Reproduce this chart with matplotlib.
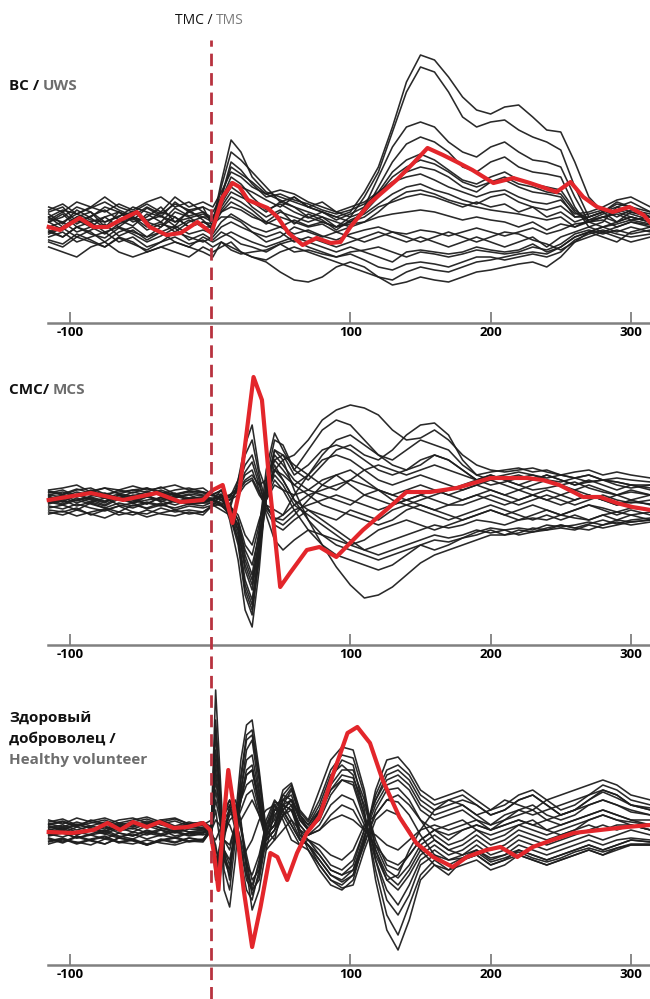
import matplotlib
matplotlib.use("Agg")
import matplotlib.pyplot as plt

plt.rcParams['font.family'] = ['Open Sans', 'DejaVu Sans']
plt.rcParams['lines.scale_dashes'] = False

# ---------------- data (time in ms, amplitude in arbitrary units) ----------------
tick_ms = [-100, 100, 200, 300]
tick_labels = ['-100', '100', '200', '300']

# panel 1: UWS
uws_red_t = [-115, -107, -93, -83, -73, -64, -52, -43, -31, -21, -9, 1, 9, 16, 21, 27, 41, 48, 56,
             66, 76, 86, 93, 100, 114, 133, 145, 155, 166, 176, 187, 202, 216, 228, 247, 257, 266,
             276, 287, 299, 309, 314]
uws_red = [-5, -8, 4, -5, -5, 2, 10, -5, -13, -11, 0, -11, 25, 39, 35, 22, 14, 5, -11,
           -23, -16, -21, -20, -5, 19, 42, 59, 74, 67, 60, 52, 39, 44, 39, 30, 40, 25,
           15, 10, 15, 7, -1]

uws_t = [-115, -105, -95, -85, -75, -65, -55, -45, -35, -25, -15, -5, 2, 8, 15, 22, 30,
         40, 50, 60, 70, 80, 90, 100, 110, 120, 130, 140, 150, 160, 170, 180, 190, 200,
         210, 220, 230, 240, 250, 260, 270, 280, 290, 300, 314]
uws_black = [
    [5, 12, 8, 15, 10, 18, 12, 20, 25, 15, 20, 10, 0, 40, 82, 70, 45,
     30, 25, 20, 15, 10, 5, 10, 30, 55, 95, 140, 167, 162, 145, 125, 112, 108, 115, 117, 105, 92, 90, 60, 25, 10, 15, 20, 10],
    [0, 5, 15, 10, 0, 5, 15, 10, 5, 20, 10, 15, -5, 35, 70, 62, 50,
     35, 20, 25, 15, 20, 10, 5, 25, 50, 90, 130, 155, 150, 130, 105, 95, 100, 102, 92, 85, 80, 72, 35, 5, 10, 20, 15, 5],
    [-10, -5, 5, 0, -10, -5, 5, 0, -5, 10, 5, -5, -10, 25, 55, 48, 40,
     28, 22, 15, 10, 5, 0, -5, 15, 45, 75, 95, 100, 95, 80, 70, 65, 75, 80, 70, 62, 60, 55, 25, 0, 5, 10, 5, 0],
    [10, 15, 0, 5, 15, 10, 0, 5, 15, 0, 10, 5, 5, 20, 40, 35, 30,
     22, 15, 25, 15, 10, 5, 0, 10, 35, 60, 78, 85, 80, 70, 55, 50, 60, 65, 55, 50, 48, 45, 15, -5, 0, 15, 10, 5],
    [-5, 0, -10, -5, 5, -5, -10, -15, -5, 5, -5, 0, -5, 15, 30, 25, 20,
     10, 20, 15, 5, 0, -5, 5, 10, 25, 40, 50, 55, 52, 45, 35, 30, 40, 45, 38, 35, 30, 28, 10, 0, 5, 0, 10, 5],
    [5, -5, 5, 10, -5, 0, 5, -5, 0, -10, 0, 5, 0, 10, 15, 12, 5,
     0, 10, 5, 0, 5, -5, 0, 5, 15, 20, 25, 28, 25, 20, 15, 20, 15, 18, 10, 15, 5, 10, 0, 5, 10, 0, 5, 0],
    [-15, -10, -20, -15, -10, -20, -15, -25, -20, -10, -15, -20, -15, -5, 0, -5, -10,
     -15, -10, -20, -15, -20, -25, -20, -15, -10, -15, -20, -15, -20, -25, -20, -15, -20, -25, -20, -15, -25, -15, -10, -5, -10, -5, 0, -5],
    [-20, -25, -15, -20, -25, -15, -20, -30, -25, -20, -25, -15, -20, -15, -10, -15, -20,
     -25, -20, -15, -20, -25, -30, -25, -30, -35, -40, -30, -28, -30, -32, -30, -25, -28, -30, -28, -22, -30, -25, -15, -10, -5, -10, -5, -10],
    [-25, -30, -35, -25, -20, -30, -35, -30, -25, -30, -35, -25, -30, -25, -20, -30, -35,
     -40, -50, -58, -60, -55, -45, -40, -45, -55, -63, -60, -55, -58, -60, -55, -50, -48, -45, -42, -40, -45, -35, -20, -15, -10, -15, -20, -15],
    [-10, -15, -5, -10, -20, -10, -5, -15, -10, -20, -25, -30, -35, -20, -25, -30, -35,
     -38, -30, -25, -30, -35, -40, -45, -50, -55, -58, -50, -45, -48, -50, -45, -40, -38, -35, -32, -30, -32, -25, -15, -10, -15, -20, -10, -5],
    [15, 10, 20, 15, 25, 15, 10, 18, 10, 25, 15, 20, 15, 30, 50, 45, 35,
     28, 32, 28, 20, 15, 10, 15, 20, 30, 40, 45, 48, 42, 35, 30, 25, 30, 32, 25, 20, 18, 22, 8, 10, 15, 22, 25, 15],
    [0, 8, -5, 0, 5, 10, 5, 0, 10, 5, -5, 0, -2, 5, 5, 0, -10,
     -20, -15, -5, -10, -15, -10, -15, -20, -15, -10, -15, -20, -15, -10, -15, -20, -15, -10, -12, -18, -22, -28, -20, -10, -5, 0, 5, 0],
    [8, -2, 12, 4, -6, 10, 2, 14, 6, -4, 12, 2, -8, 18, 35, 28, 15,
     5, 12, -2, 8, 2, -8, 2, 8, 18, 28, 35, 38, 32, 28, 22, 18, 25, 28, 20, 15, 12, 16, 5, 8, 12, 5, 12, 8],
    [-12, -6, -15, -8, -2, -14, -8, -18, -10, -4, -12, -8, -12, 0, 8, 2, -5,
     -10, -5, -12, -8, -14, -18, -12, -8, -5, -10, -12, -8, -10, -14, -10, -6, -10, -14, -10, -6, -12, -8, -2, 0, -5, -2, 2, -2],
    [2, 10, -2, 6, 12, 2, -4, 8, 0, 14, 6, 10, 4, 22, 45, 38, 25,
     12, 18, 10, 4, 10, 2, 8, 15, 30, 50, 62, 68, 62, 52, 42, 38, 45, 50, 42, 38, 35, 32, 12, 2, 8, 12, 8, 2],
    [-18, -22, -12, -18, -25, -16, -22, -28, -20, -15, -22, -18, -25, -20, -28, -32, -30,
     -28, -22, -30, -28, -32, -35, -30, -28, -25, -30, -35, -30, -32, -35, -32, -28, -30, -32, -30, -25, -28, -22, -12, -8, -12, -8, -12, -8],
    [0, -8, 2, -5, -12, -2, 4, -8, -2, -6, 2, -5, -5, 10, 20, 15, 8,
     -2, 5, 0, -5, -2, -10, -5, 0, 5, 8, 10, 12, 10, 6, 2, 5, 2, 0, -5, 0, -8, -2, -5, 0, 2, -5, 0, -3],
    [12, 18, 8, 14, 20, 12, 6, 15, 8, 18, 12, 15, 10, 25, 60, 52, 38,
     25, 28, 22, 18, 12, 8, 12, 18, 28, 45, 55, 62, 58, 50, 40, 35, 40, 42, 35, 30, 28, 25, 5, 5, 10, 18, 15, 10],
    [-8, -15, -5, -12, -16, -6, -12, -20, -14, -6, -18, -12, -18, -10, -15, -22, -25,
     -30, -22, -18, -25, -30, -35, -32, -38, -45, -48, -42, -40, -42, -45, -40, -35, -35, -38, -35, -32, -35, -30, -18, -12, -8, -12, -15, -12],
    [4, 0, 8, 2, 0, 6, 10, 2, 6, 0, 4, 8, 2, 12, 25, 20, 12,
     0, -5, 2, -4, 0, -5, -2, 0, 10, 22, 30, 32, 28, 22, 18, 15, 12, 10, 8, 5, 2, 5, -5, 2, 5, 8, 2, 5],
]

# panel 2: MCS
mcs_red_t = [-115, -85, -62, -38, -21, -5, 2, 9, 16, 21, 31, 37, 43, 50, 57, 69, 78, 90, 109,
             128, 140, 157, 176, 200, 226, 237, 249, 266, 278, 290, 301, 314]
mcs_red = [0, 7, 0, 7, -2, 0, 10, 15, -23, 10, 123, 100, 7, -87, -73, -50, -47, -57, -30,
           -7, 8, 8, 12, 22, 22, 20, 15, 3, 3, -3, -7, -10]

mcs_t = [-115, -105, -95, -85, -75, -65, -55, -45, -35, -25, -15, -5,
         2, 8, 14, 20, 25, 30, 35, 40, 46, 52,
         60, 70, 80, 90, 100, 110, 120, 130, 140, 150, 160, 170, 180, 190, 200,
         210, 220, 230, 240, 250, 260, 270, 280, 290, 300, 314]
mcs_black = [
    [5, 8, 3, 10, 5, 2, 8, 5, 10, 5, 8, 5, 5, 0, -10, 20, 55, 75, 30, 10, 30, 40,
     45, 60, 80, 90, 95, 92, 85, 70, 60, 62, 70, 60, 45, 35, 30, 28, 30, 32, 28, 25, 22, 25, 20, 22, 20, 18],
    [-3, 2, 5, 0, -5, 3, 0, 5, -2, 4, 0, -3, 0, -5, -15, -40, -90, -110, -60, 20, 60, 55,
     30, 20, 35, 50, 55, 45, 40, 50, 65, 75, 77, 65, 40, 25, 20, 22, 25, 20, 25, 20, 15, 18, 20, 15, 12, 15],
    [-8, -5, -10, -3, -8, -12, -5, -8, -3, -10, -6, -8, -5, 5, -20, -60, -110, -127, -70, 10, 50, 40,
     10, -20, -45, -67, -85, -98, -95, -87, -75, -63, -55, -50, -45, -40, -35, -35, -30, -32, -30, -28, -30, -25, -28, -25, -22, -20],
    [3, 0, 5, 8, 2, 0, 5, 3, 8, 2, 5, 0, 0, 10, -5, -30, -70, -90, -45, 15, 45, 35,
     20, 10, 5, 0, -5, 5, 10, 5, 0, 5, 10, 5, 0, 5, 10, 5, 0, 5, 10, 5, 0, 5, 0, -5, 0, -5],
    [8, 5, 10, 12, 6, 8, 10, 12, 6, 10, 12, 8, 5, 10, -5, 15, 35, 45, 20, -15, -40, -50,
     -40, -30, -35, -40, -45, -40, -30, -25, -20, -25, -30, -25, -20, -15, -10, -15, -20, -15, -10, -15, -10, -5, -10, -15, -10, -15],
    [-2, -5, 0, -4, -8, -3, -6, -2, -5, 0, -4, -2, 0, -5, -10, -25, -50, -65, -35, 5, 30, 25,
     15, 25, 40, 45, 40, 30, 20, 15, 20, 25, 20, 15, 10, 15, 20, 15, 10, 15, 20, 15, 10, 15, 10, 5, 10, 5],
    [-10, -12, -8, -15, -10, -6, -12, -14, -8, -12, -10, -12, -5, 0, 5, 10, 25, 30, 10, -10, -25, -30,
     -20, -10, -15, -20, -10, -15, -20, -10, -5, -10, -15, -20, -15, -10, -5, -10, -15, -20, -15, -20, -15, -20, -15, -20, -15, -20],
    [0, 3, -3, 2, -2, 5, 0, -4, 3, -2, 2, 0, 0, 5, -10, -35, -80, -100, -50, 5, 35, 20,
     0, -10, -20, -30, -40, -50, -55, -50, -45, -40, -35, -38, -35, -30, -33, -30, -28, -30, -25, -27, -25, -22, -25, -20, -22, -20],
    [10, 12, 15, 8, 12, 10, 14, 10, 12, 15, 10, 12, 5, 0, -5, -20, -55, -75, -30, 30, 67, 50,
     30, 50, 70, 80, 75, 60, 45, 40, 50, 60, 55, 50, 35, 25, 28, 30, 32, 28, 30, 25, 28, 30, 25, 28, 25, 22],
    [2, -2, 0, 3, -1, 2, -3, 0, 2, -2, 1, 0, 0, -5, 0, 5, 15, 20, 5, -5, -10, -15,
     -5, 5, 10, 15, 20, 15, 10, 5, 10, 15, 10, 5, 10, 15, 10, 5, 10, 5, 0, 5, 10, 5, 0, 5, 0, 5],
    [-12, -15, -10, -14, -18, -12, -15, -10, -14, -16, -12, -15, -5, -10, -15, -45, -95, -115, -55, 0, 20, 10,
     -10, -30, -45, -55, -60, -65, -70, -65, -55, -45, -50, -45, -38, -35, -30, -35, -33, -28, -30, -25, -28, -30, -25, -22, -25, -22],
    [5, 3, 8, 5, 2, 6, 4, 8, 5, 3, 6, 4, 0, 5, 0, 10, 20, 25, 15, 20, 40, 45,
     35, 25, 15, 10, 20, 30, 35, 30, 25, 30, 35, 30, 25, 20, 25, 20, 15, 20, 25, 20, 15, 20, 15, 10, 15, 10],
    [4, -2, 6, 1, -3, 5, 2, -4, 3, 7, -1, 2, 2, 4, -8, -25, -60, -80, -40, 10, 40, 30,
     15, 5, -5, -10, -15, -20, -25, -20, -10, -5, -10, -15, -20, -15, -10, -15, -10, -5, -10, -15, -10, -5, -8, -12, -8, -10],
    [-6, -9, -4, -8, -11, -6, -3, -9, -5, -8, -4, -6, -2, 3, 5, 12, 28, 38, 15, -5, -20, -25,
     -15, 0, 15, 25, 30, 20, 10, 0, -5, 0, 5, 10, 15, 20, 25, 20, 15, 10, 12, 15, 18, 12, 8, 5, 8, 5],
    [7, 10, 4, 9, 12, 6, 10, 8, 13, 6, 9, 7, 4, 6, -5, -20, -45, -55, -25, 15, 50, 45,
     25, 35, 50, 55, 50, 40, 30, 25, 30, 40, 45, 40, 30, 20, 15, 18, 22, 25, 20, 18, 22, 25, 20, 18, 15, 12],
    [-4, 0, -6, -2, 2, -5, -8, -3, -6, -1, -4, -3, -3, -6, -12, -30, -65, -85, -40, 5, 25, 15,
     -5, -15, -25, -35, -45, -50, -45, -40, -35, -30, -25, -28, -25, -20, -22, -25, -20, -18, -20, -15, -18, -20, -15, -12, -15, -12],
    [1, 5, -1, 4, 7, 2, -2, 4, 0, 5, 2, 3, 1, 2, 3, 8, 18, 22, 8, -8, -18, -20,
     -10, -5, 0, 5, 0, -5, -10, -5, 0, -5, -10, -5, 0, 5, 0, -5, 0, 5, 0, -5, 0, 5, 0, -5, -2, -4],
    [-14, -11, -16, -12, -9, -15, -12, -17, -13, -10, -14, -12, -6, -4, -12, -40, -85, -105, -50, 0, 30, 20,
     0, -20, -35, -45, -50, -55, -60, -55, -50, -45, -40, -42, -38, -32, -28, -30, -35, -32, -28, -25, -28, -24, -20, -24, -20, -18],
    [9, 6, 11, 7, 4, 10, 7, 12, 8, 5, 9, 8, 6, 9, 2, 20, 45, 60, 25, -5, -20, -15,
     5, 25, 45, 60, 65, 55, 45, 35, 30, 35, 45, 40, 30, 20, 22, 25, 28, 25, 22, 25, 22, 18, 20, 18, 15, 15],
    [0, -4, 2, -2, -6, 1, -3, 3, -1, -5, 0, -2, 0, -3, -6, -15, -35, -45, -20, 0, 15, 10,
     5, 10, 20, 25, 15, 5, 0, -5, 0, 5, 0, -5, -5, 0, 5, 0, -5, 0, 5, 0, -5, 0, 5, 0, -3, 0],
]

# panel 3: healthy volunteer
hv_red_t = [-115, -98, -83, -73, -64, -55, -45, -36, -26, -16, -5, 0, 3, 6, 9, 13, 18, 24, 30,
            36, 43, 48, 55, 62, 69, 78, 88, 98, 105, 114, 123, 135, 147, 159, 173, 183, 197,
            207, 219, 230, 244, 259, 278, 297, 314]
hv_red = [-2, -3, 0, 7, 0, 8, 3, 8, 2, 3, 7, 0, -25, -60, 0, 60, 13, -60, -117,
          -77, -23, -27, -50, -23, -3, 13, 57, 97, 103, 87, 50, 13, -13, -27, -37, -27, -20,
          -17, -27, -17, -10, -3, 0, 3, 5]

hv_t = [-115, -105, -95, -85, -75, -65, -55, -45, -35, -25, -15, -5,
        1, 4, 7, 10, 14, 18, 22, 26, 30, 35, 40, 46, 52, 58, 64, 70, 78, 86, 94, 102,
        110, 118, 126, 134, 142, 150,
        160, 170, 180, 190, 200, 210, 220, 230, 240, 250, 260, 270, 280, 290, 300, 314]
hv_black = [
    [5, 8, 3, 10, 6, 2, 8, 5, 10, 4, 8, 5,
     10, 140, 60, -20, -50, 10, 70, 105, 110, 60, 0, 10, 40, 47, 20, 10, 40, 70, 83, 80,
     40, -20, -50, -45, -20, 0, 20, 30, 25, 15, 20, 30, 25, 20, 30, 35, 40, 45, 50, 45, 35, 30],
    [-3, 0, -5, 2, -4, -8, -2, -5, 0, -6, -3, -2,
     0, -30, -50, -10, 20, 30, 10, -40, -80, -60, -20, 20, 35, 30, 0, -20, -40, -55, -60, -50,
     -10, 40, 70, 73, 60, 40, 30, 35, 40, 30, 20, 25, 35, 40, 30, 20, 25, 35, 45, 40, 30, 25],
    [-8, -12, -6, -10, -14, -8, -10, -15, -9, -12, -8, -10,
     5, 60, 20, -60, -77, -30, 40, 80, 90, 40, -20, -10, 25, 40, 15, 0, 20, 50, 70, 65,
     20, -50, -100, -120, -90, -50, -35, -45, -30, -25, -35, -30, -20, -25, -30, -25, -20, -15, -20, -15, -10, -12],
    [2, 5, 0, 4, 8, 3, 6, 2, 7, 3, 5, 2,
     0, 100, 30, -40, -60, -10, 50, 90, 95, 50, -10, 0, 30, 42, 15, 5, 25, 55, 65, 55,
     15, -40, -85, -105, -75, -45, -30, -40, -35, -30, -40, -35, -25, -30, -35, -30, -25, -20, -25, -18, -15, -15],
    [10, 6, 12, 8, 5, 10, 12, 7, 10, 12, 6, 8,
     -5, -20, -30, 0, 15, 20, 0, -30, -60, -50, -10, 15, 25, 20, -5, -10, -25, -40, -45, -35,
     0, 30, 55, 60, 50, 30, 20, 25, 30, 25, 15, 20, 30, 35, 25, 15, 20, 30, 40, 35, 25, 20],
    [-5, -2, -8, -4, 0, -6, -9, -3, -6, -1, -5, -3,
     5, 80, 40, -30, -40, 0, 40, 70, 75, 35, -5, 5, 30, 35, 10, 0, 15, 40, 50, 45,
     10, -30, -60, -75, -55, -30, -20, -30, -25, -15, -25, -20, -10, -15, -20, -15, -10, -5, -10, -5, 0, -5],
    [-12, -9, -14, -10, -7, -13, -10, -15, -11, -8, -12, -10,
     0, -40, -20, 20, 30, 10, -20, -50, -60, -30, 10, 30, 20, 5, -10, -15, -30, -45, -50, -40,
     -5, 25, 45, 50, 40, 20, 10, 15, 20, 10, 0, 10, 15, 20, 10, 5, 10, 15, 20, 15, 10, 5],
    [0, 3, -2, 1, 4, -1, 2, -3, 1, 3, -2, 0,
     0, 30, 10, -20, -30, 0, 30, 55, 60, 25, -15, -5, 15, 25, 5, -5, 5, 25, 35, 30,
     5, -20, -45, -55, -40, -20, -10, -20, -15, -5, -15, -10, 0, -5, -10, -5, 0, 5, 0, 5, 5, 0],
    [6, 9, 4, 7, 10, 5, 8, 11, 6, 9, 4, 6,
     -5, -10, 0, 10, 5, -10, -30, -20, -10, 10, 20, 25, 10, -10, -15, -10, -15, -25, -30, -20,
     5, 15, 30, 35, 25, 10, 0, 5, 10, 0, -5, 0, 5, 10, 0, -5, 0, 10, 15, 10, 5, 0],
    [-6, -3, -8, -5, -2, -7, -4, -9, -5, -2, -6, -4,
     5, 50, 20, -10, -20, 5, 30, 45, 50, 20, -5, 5, 20, 30, 15, 5, 20, 45, 60, 60,
     30, -10, -35, -40, -25, -10, 0, -10, 0, 5, 0, 5, 10, 5, 10, 15, 20, 25, 30, 25, 20, 15],
    [-14, -10, -12, -15, -9, -12, -14, -10, -13, -15, -11, -12,
     0, -50, -35, 15, 25, 0, -30, -60, -70, -40, 0, 25, 15, 0, -15, -20, -35, -50, -58, -55,
     -20, 10, 20, 15, 0, -20, -35, -40, -30, -25, -35, -30, -25, -30, -35, -30, -25, -20, -25, -20, -15, -15],
    [3, 0, 5, 2, -2, 4, 1, 6, 2, -1, 3, 1,
     0, 20, -10, -5, 10, 15, 10, 20, 30, 15, 0, -10, 0, 10, 0, -5, 0, 10, 15, 10,
     0, -5, -15, -20, -10, 0, 5, 0, 5, 10, 5, 15, 20, 15, 20, 25, 30, 35, 40, 35, 25, 20],
    [4, 1, 6, 2, -1, 5, 3, 7, 2, -2, 4, 2,
     2, 70, 30, -20, -35, 0, 35, 60, 65, 30, -5, 5, 25, 30, 10, 0, 10, 35, 50, 48,
     15, -25, -50, -60, -45, -25, -15, -25, -20, -10, -20, -15, -5, -10, -15, -10, -5, 0, 5, 0, 5, 0],
    [-4, -7, -2, -5, -9, -3, -6, -1, -5, -8, -3, -5,
     -2, -15, -40, -5, 25, 25, 5, -35, -65, -45, -5, 25, 30, 25, -5, -15, -35, -50, -55, -45,
     -8, 35, 60, 65, 55, 35, 25, 30, 35, 25, 15, 20, 30, 35, 25, 15, 20, 30, 38, 32, 25, 22],
    [8, 11, 5, 9, 12, 7, 10, 13, 8, 11, 6, 8,
     3, 110, 45, -30, -45, 5, 55, 95, 100, 55, -5, 5, 35, 45, 18, 8, 30, 60, 75, 72,
     35, -30, -70, -85, -65, -35, -25, -35, -28, -20, -28, -25, -15, -20, -25, -20, -15, -10, -15, -10, -8, -10],
    [-9, -13, -7, -11, -14, -8, -11, -15, -10, -13, -8, -11,
     0, -45, -25, 15, 30, 15, -15, -45, -55, -35, 5, 28, 25, 10, -8, -15, -30, -45, -52, -45,
     -15, 20, 40, 42, 30, 10, -10, -20, -25, -20, -30, -25, -20, -25, -30, -25, -20, -15, -20, -15, -10, -12],
    [1, -3, 3, -1, -4, 2, -2, 4, 0, -3, 1, 0,
     0, 10, 5, -10, -15, 5, 20, 35, 40, 15, -10, 0, 15, 20, 5, -5, 0, 15, 25, 20,
     0, -15, -30, -35, -25, -10, 0, -5, 0, 5, 0, 5, 10, 5, 0, 5, 10, 15, 20, 15, 10, 10],
    [6, 3, 8, 4, 1, 7, 4, 9, 5, 2, 6, 4,
     2, -25, -35, 0, 20, 20, 5, -25, -50, -40, -5, 20, 25, 20, 0, -10, -20, -35, -40, -30,
     0, 30, 50, 55, 45, 25, 15, 20, 25, 15, 5, 10, 20, 25, 15, 10, 15, 25, 30, 25, 18, 15],
    [-2, 2, -5, 0, 3, -3, -6, 0, -4, 1, -2, -2,
     -4, 40, 15, -25, -40, -5, 30, 55, 60, 25, -10, 0, 20, 30, 12, 2, 18, 40, 55, 52,
     25, -15, -40, -48, -35, -15, -5, -15, -10, 0, -10, -5, 5, 0, -5, 0, 5, 10, 15, 10, 8, 5],
    [-11, -8, -13, -9, -6, -12, -9, -14, -10, -7, -11, -9,
     -1, -35, -15, 10, 20, 10, -10, -35, -45, -25, 5, 20, 18, 5, -10, -15, -25, -40, -45, -40,
     -12, 15, 30, 28, 15, -5, -25, -30, -28, -22, -32, -28, -22, -28, -32, -28, -22, -18, -22, -18, -14, -14],
]

# ---------------- figure ----------------
W, H = 650, 999
fig = plt.figure(figsize=(W / 100, H / 100), dpi=100)

red = '#e3262b'
trace_col = '#1e1e1e'
axis_col = '#808080'
grey_txt = '#6d6d6d'
x_lo, x_hi = -115.5, 313.6
left_px = 48

# (top px, axis px, baseline px) per panel
panels = [
    (uws_t, uws_black, uws_red_t, uws_red, 40, 323, 222),
    (mcs_t, mcs_black, mcs_red_t, mcs_red, 360, 645, 500),
    (hv_t, hv_black, hv_red_t, hv_red, 680, 965, 830),
]

for t, black, rt, rv, top, axis_y, base in panels:
    ax = fig.add_axes([left_px / W, 1 - axis_y / H, (W - left_px) / W, (axis_y - top) / H])
    ax.set_facecolor('none')
    for tr in black:
        ax.plot(t, tr, color=trace_col, lw=1.15, alpha=0.95, clip_on=False)
    ax.plot(rt, rv, color=red, lw=3.0, solid_joinstyle='round', zorder=5, clip_on=False)
    ax.set_xlim(x_lo, x_hi)
    ax.set_ylim(-(axis_y - base), base - top)
    for s in ['top', 'right', 'left']:
        ax.spines[s].set_visible(False)
    ax.spines['bottom'].set_color(axis_col)
    ax.spines['bottom'].set_linewidth(1.8)
    ax.set_yticks([])
    ax.set_xticks(tick_ms)
    ax.set_xticklabels(tick_labels, fontweight='bold', fontsize=9.5)
    ax.tick_params(axis='x', direction='in', length=8, width=1.3, color=axis_col, pad=2)

# stimulus onset dashed line across the whole figure
ov = fig.add_axes([left_px / W, 0, (W - left_px) / W, 1])
ov.set_facecolor('none')
ov.axis('off')
ov.set_xlim(x_lo, x_hi)
ov.set_ylim(H, 0)
ov.axvline(0.8, ymin=0, ymax=1 - 40 / H, color='#b8323f', lw=2.0, dashes=[9, 5], zorder=10)


def put_parts(x_px, y_px, parts, **kw):
    renderer = fig.canvas.get_renderer()
    x = x_px / W
    for s, c in parts:
        txt = fig.text(x, 1 - y_px / H, s, color=c, va='center', ha='left', **kw)
        bb = txt.get_window_extent(renderer=renderer)
        x += bb.width / W


put_parts(175, 20, [('TMC / ', '#111111'), ('TMS', '#7a7a7a')], fontsize=10)
put_parts(9, 86, [('ВС / ', '#111111'), ('UWS', grey_txt)], fontsize=11, fontweight='bold')
put_parts(9, 390, [('СМС/ ', '#111111'), ('MCS', grey_txt)], fontsize=11, fontweight='bold')
put_parts(9, 718, [('Здоровый', '#111111')], fontsize=11, fontweight='bold')
put_parts(9, 739, [('доброволец /', '#111111')], fontsize=11, fontweight='bold')
put_parts(9, 760, [('Healthy volunteer', grey_txt)], fontsize=11, fontweight='bold')

fig.savefig('out.png', dpi=100)
